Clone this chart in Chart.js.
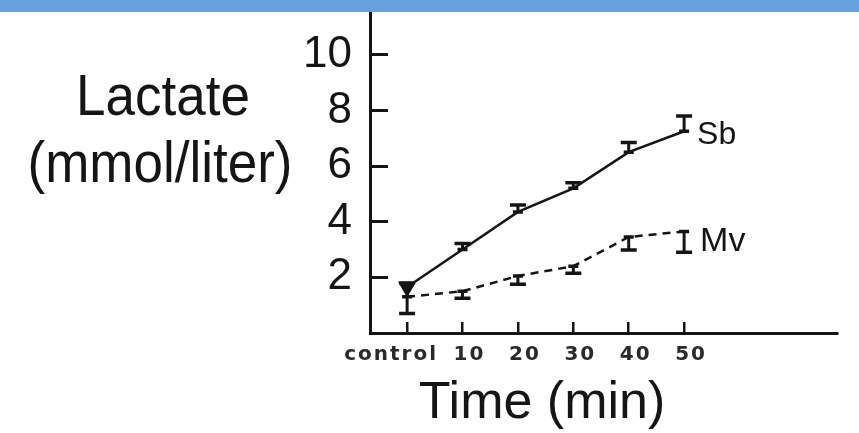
<!DOCTYPE html>
<html>
<head>
<meta charset="utf-8">
<script src="https://cdn.jsdelivr.net/npm/chart.js@4.4.1/dist/chart.umd.min.js"></script>
<style>
html, body { margin: 0; padding: 0; background: #fff; }
#wrap { position: relative; width: 859px; height: 433px; }
#bar { position: absolute; left: 0; top: 0; width: 859px; height: 12px; background: #66a0de; }
</style>
</head>
<body>
<div id="wrap">
  <canvas id="chart" width="859" height="433"></canvas>
  <div id="bar"></div>
</div>
<script>
// values
const time_labels = ["control", "10", "20", "30", "40", "50"];
const time_min = [0, 10, 20, 30, 40, 50];
const sb_lactate = [1.65, 3.0, 4.35, 5.2, 6.5, 7.25];
const sb_err = [0.15, 0.22, 0.25, 0.2, 0.35, 0.55];
const mv_lactate = [1.3, 1.5, 2.05, 2.4, 3.45, 3.65];
const mv_err = [0.6, 0.25, 0.3, 0.25, 0.47, 0.75];
const y_ticks = [2, 4, 6, 8, 10];

const ink = "#151515";
const font = "'Liberation Sans', Arial, sans-serif";

const toPoints = (ys) => time_min.map((t, i) => ({ x: t, y: ys[i] }));

// T-shaped error bars, Sb goes up, Mv goes down
const errorBars = {
  id: "errorBars",
  afterDatasetsDraw(chart) {
    const ctx = chart.ctx;
    const xs = chart.scales.x, ys = chart.scales.y;
    chart.data.datasets.forEach(ds => {
      ds.err.forEach((e, i) => {
        const x = xs.getPixelForValue(time_min[i]);
        const y0 = ys.getPixelForValue(ds.data[i].y);
        const y1 = ys.getPixelForValue(ds.data[i].y + ds.dir * e);
        ctx.save();
        ctx.strokeStyle = ink;
        ctx.lineWidth = 3;
        ctx.beginPath();
        ctx.moveTo(x, y0);
        ctx.lineTo(x, y1);
        ctx.stroke();
        ctx.lineWidth = 3.5;
        ctx.beginPath();
        ctx.moveTo(x - 8, y1);
        ctx.lineTo(x + 8, y1);
        ctx.moveTo(x - 5, y0);
        ctx.lineTo(x + 5, y0);
        ctx.stroke();
        ctx.restore();
      });
    });
  }
};

// horizontal axis titles and the series names
const labels = {
  id: "labels",
  beforeDraw(chart) {
    const xs = chart.scales.x;
    if (!xs._patched) {
      const orig = xs.drawLabels;
      xs.drawLabels = function (area) {
        if (!this._shifted) {
          // printed labels sit a bit off their ticks: "control" left, numbers right
          this.getLabelItems(area).forEach(item => {
            item.options.translation[0] += item.label === time_labels[0] ? -16 : 7;
          });
          this._shifted = true;
        }
        this.ctx.save();
        this.ctx.letterSpacing = "2px";
        orig.call(this, area);
        this.ctx.restore();
      };
      xs._patched = true;
    }
  },
  afterDraw(chart) {
    const ctx = chart.ctx;
    const xs = chart.scales.x, ys = chart.scales.y;
    ctx.save();
    ctx.fillStyle = ink;
    ctx.textAlign = "center";
    ctx.textBaseline = "alphabetic";
    ctx.font = "57px " + font;
    [["Lactate", 163, 115], ["(mmol/liter)", 160, 182]].forEach(([t, x, y]) => {
      ctx.save();
      ctx.translate(x, y);
      ctx.scale(0.93, 1);
      ctx.fillText(t, 0, 0);
      ctx.restore();
    });
    ctx.font = "52px " + font;
    ctx.fillText("Time (min)", 542, 418);

    const last = time_min.length - 1;
    const xl = xs.getPixelForValue(time_min[last]);
    ctx.textAlign = "left";
    ctx.font = "32px " + font;
    ctx.fillText("Sb", xl + 13, ys.getPixelForValue(sb_lactate[last]) + 13);
    ctx.font = "34px " + font;
    ctx.fillText("Mv", xl + 16, ys.getPixelForValue(mv_lactate[last]) + 20);
    ctx.restore();
  }
};

const noPad = s => {
  s.paddingTop = 0; s.paddingBottom = 0;
  s.paddingLeft = 0; s.paddingRight = 0;
};

new Chart(document.getElementById("chart"), {
  type: "line",
  data: {
    datasets: [{
      label: "Sb",
      data: toPoints(sb_lactate),
      err: sb_err,
      dir: 1,
      borderColor: ink,
      borderWidth: 2.5,
      tension: 0,
      pointStyle: "triangle",
      rotation: 180,
      pointRadius: [8, 0, 0, 0, 0, 0],
      pointBackgroundColor: ink,
      pointBorderColor: ink
    }, {
      label: "Mv",
      data: toPoints(mv_lactate),
      err: mv_err,
      dir: -1,
      borderColor: ink,
      borderWidth: 2.5,
      borderDash: [8, 6],
      tension: 0,
      pointRadius: 0
    }]
  },
  options: {
    responsive: false,
    animation: false,
    layout: { padding: { left: 0, top: 13, right: 22, bottom: 0 } },
    plugins: {
      legend: { display: false },
      tooltip: { enabled: false }
    },
    scales: {
      x: {
        type: "linear",
        min: -6.7,
        max: 77.6,
        afterFit: s => { s.height = 100; noPad(s); },
        afterBuildTicks: s => { s.ticks = time_min.map(v => ({ value: v })); },
        border: { display: true, width: 3, color: ink },
        grid: { drawOnChartArea: false, drawTicks: true, tickLength: -11, lineWidth: 2.5, color: ink },
        ticks: {
          padding: 21,
          maxRotation: 0,
          autoSkip: false,
          color: "#2a2a2a",
          font: { family: "'DejaVu Sans'", size: 20, weight: "bold" },
          callback: v => time_labels[time_min.indexOf(v)]
        }
      },
      y: {
        min: 0,
        max: 11.5,
        afterFit: s => { s.width = 370; noPad(s); },
        afterBuildTicks: s => { s.ticks = y_ticks.map(v => ({ value: v })); },
        border: { display: true, width: 3, color: ink },
        grid: { drawOnChartArea: false, drawTicks: true, tickLength: -18, lineWidth: 3, color: ink },
        ticks: {
          padding: 36,
          color: ink,
          font: { family: font, size: 44 }
        }
      }
    }
  },
  plugins: [errorBars, labels]
});
</script>
</body>
</html>
